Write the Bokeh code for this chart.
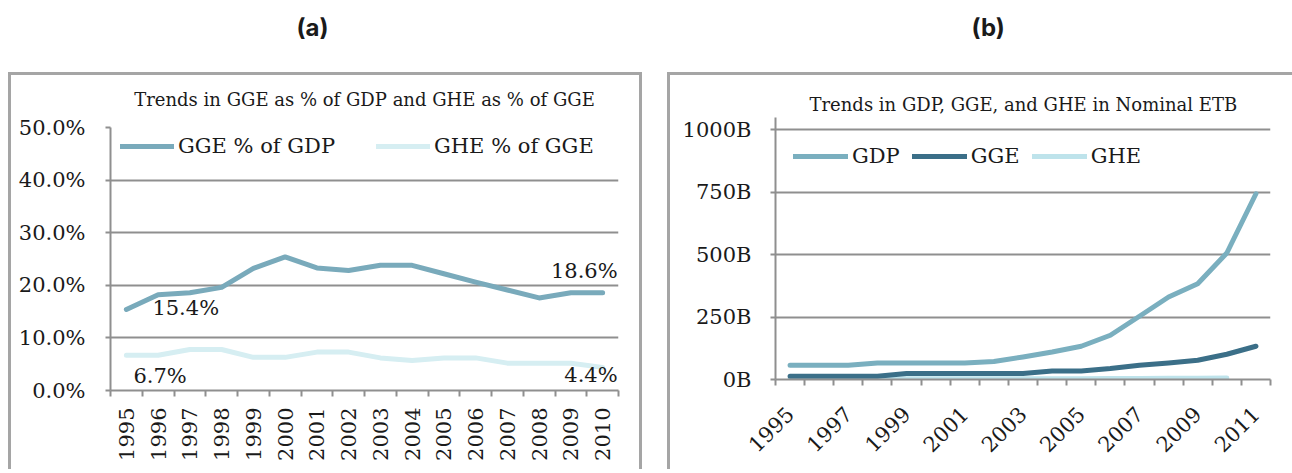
import math
from bokeh.plotting import figure
from bokeh.models import (FixedTicker, PrintfTickFormatter, Legend, LegendItem,
                          Label, Range1d, Title)
from bokeh.layouts import row
from bokeh.embed import file_html
from bokeh.resources import INLINE

# ---------------- data ----------------
years_a = [1995, 1996, 1997, 1998, 1999, 2000, 2001, 2002,
           2003, 2004, 2005, 2006, 2007, 2008, 2009, 2010]
gge_pct_gdp = [15.4, 18.2, 18.6, 19.6, 23.2, 25.4, 23.3, 22.8,
               23.8, 23.8, 22.2, 20.6, 19.1, 17.6, 18.6, 18.6]
ghe_pct_gge = [6.7, 6.7, 7.8, 7.8, 6.3, 6.3, 7.3, 7.3,
               6.2, 5.7, 6.2, 6.2, 5.2, 5.2, 5.2, 4.4]
pct_ticks = [0, 10, 20, 30, 40, 50]

years_b = [1995, 1996, 1997, 1998, 1999, 2000, 2001, 2002, 2003,
           2004, 2005, 2006, 2007, 2008, 2009, 2010, 2011]
gdp_b = [57, 57, 57, 66, 66, 66, 66, 72, 90, 110, 133, 177, 253, 330, 383, 506, 743]
gge_b = [13, 13, 13, 13, 24, 24, 24, 24, 24, 34, 34, 44, 57, 66, 77, 101, 133]
years_ghe_b = [1995, 1996, 1997, 1998, 1999, 2000, 2001, 2002,
               2003, 2004, 2005, 2006, 2007, 2008, 2009, 2010]
ghe_b = [2, 2, 2, 2, 3, 3, 3, 3, 3, 3, 3, 4, 4, 5, 5, 6]
etb_ticks = [0, 250, 500, 750, 1000]
label_years_b = [1995, 1997, 1999, 2001, 2003, 2005, 2007, 2009, 2011]

title_a = "Trends in GGE as % of GDP and GHE as % of GGE"
title_b = "Trends in GDP, GGE, and GHE in Nominal ETB"
header_a = "(a)"
header_b = "(b)"

# ---------------- styles ----------------
SERIF = "DejaVu Serif"
SANS = "Inter"
TXT = "#1a1a1a"
GRID = "#8f8f8f"
BOX = "#a5a5a5"
C_GGE_PCT = "#79aabb"
C_GHE_PCT = "#d6eef2"
C_GDP = "#7aafbf"
C_GGE = "#3b6f88"
C_GHE = "#bee3eb"
H = 469


def box_bg(lines):
    g = f"linear-gradient({BOX},{BOX})"
    return ", ".join(f"{g} {x}px {y}px / {w}px {h}px no-repeat" for x, y, w, h in lines)


def style_axes(p, yticks, yfmt, x_ticks, x_minor, angle, x_standoff, y_standoff):
    for ax in p.yaxis:
        ax.ticker = FixedTicker(ticks=yticks, minor_ticks=[])
        ax.formatter = PrintfTickFormatter(format=yfmt)
        ax.axis_line_color = GRID
        ax.axis_line_width = 2
        ax.major_tick_line_color = GRID
        ax.major_tick_line_width = 2
        ax.major_tick_out = 5
        ax.major_tick_in = 0
        ax.minor_tick_line_color = None
        ax.major_label_text_font = SERIF
        ax.major_label_text_font_size = "21px"
        ax.major_label_text_color = TXT
        ax.major_label_standoff = y_standoff
    for ax in p.xaxis:
        ax.ticker = FixedTicker(ticks=x_ticks, minor_ticks=x_minor)
        ax.formatter = PrintfTickFormatter(format="%d")
        ax.axis_line_color = GRID
        ax.axis_line_width = 2
        ax.major_tick_line_color = None
        ax.major_tick_out = 6
        ax.major_tick_in = 0
        ax.minor_tick_line_color = GRID
        ax.minor_tick_line_width = 2
        ax.minor_tick_out = 6
        ax.minor_tick_in = 0
        ax.major_label_orientation = angle
        ax.major_label_text_font = SERIF
        ax.major_label_text_font_size = "21px"
        ax.major_label_text_color = TXT
        ax.major_label_standoff = x_standoff
    p.xgrid.visible = False
    p.ygrid.ticker = FixedTicker(ticks=yticks, minor_ticks=[])
    p.ygrid.grid_line_color = GRID
    p.ygrid.grid_line_width = 2
    p.outline_line_color = None
    p.background_fill_color = "white"
    p.border_fill_alpha = 0


# ================= panel (a) =================
A_W = 650
pa = figure(width=A_W, height=H, frame_width=508, frame_height=263,
            min_border_left=110, min_border_top=127,
            min_border_right=A_W - 110 - 508, min_border_bottom=H - 127 - 263,
            x_range=Range1d(1994.5, 2010.5), y_range=Range1d(0, 50),
            frame_align=False, output_backend="svg", toolbar_location=None,
            styles={"background": box_bg([(8, 72, 3, 420), (8, 72, 634, 3),
                                          (639, 72, 3, 420)])})
style_axes(pa, pct_ticks, "%.1f%%", years_a,
           [y - 0.5 for y in years_a] + [years_a[-1] + 0.5], math.pi / 2, 11, 20)

r_ghe_pct = pa.line(years_a, ghe_pct_gge, line_width=5, color=C_GHE_PCT,
                    line_join="round", line_cap="round")
r_gge_pct = pa.line(years_a, gge_pct_gdp, line_width=5, color=C_GGE_PCT,
                    line_join="round", line_cap="round")

leg_a = Legend(items=[LegendItem(label="GGE % of GDP", renderers=[r_gge_pct]),
                      LegendItem(label="GHE % of GGE", renderers=[r_ghe_pct])],
               orientation="horizontal", location=(10, 390 - 158),
               glyph_width=54, glyph_height=22, label_height=22,
               label_standoff=4, spacing=41, padding=0, margin=0,
               label_text_font=SERIF, label_text_font_size="21px",
               label_text_color=TXT, border_line_color=None,
               background_fill_alpha=0)
pa.add_layout(leg_a, "center")

lbl_kw = dict(text_font=SERIF, text_font_size="21px", text_color=TXT,
              text_baseline="middle")
pa.add_layout(Label(x=years_a[0], y=gge_pct_gdp[0], x_offset=26, y_offset=1,
                    text=f"{gge_pct_gdp[0]:.1f}%", text_align="left", **lbl_kw))
pa.add_layout(Label(x=years_a[0], y=ghe_pct_gge[0], x_offset=7, y_offset=-21,
                    text=f"{ghe_pct_gge[0]:.1f}%", text_align="left", **lbl_kw))
pa.add_layout(Label(x=years_a[-1], y=gge_pct_gdp[-1], x_offset=15, y_offset=22,
                    text=f"{gge_pct_gdp[-1]:.1f}%", text_align="right", **lbl_kw))
pa.add_layout(Label(x=years_a[-1], y=ghe_pct_gge[-1], x_offset=15, y_offset=-8,
                    text=f"{ghe_pct_gge[-1]:.1f}%", text_align="right", **lbl_kw))

pa.add_layout(Title(text=title_a, align="center", standoff=36,
                    text_font=SERIF, text_font_size="18px",
                    text_font_style="normal", text_color=TXT), "above")
pa.add_layout(Title(text=header_a + "\n", align="left", offset=186, standoff=-5,
                    text_font=SANS, text_font_size="24px", text_line_height=1.0,
                    text_font_style="bold", text_color=TXT), "above")

# ================= panel (b) =================
B_X = A_W
B_W = 1292 - A_W
pb = figure(width=B_W, height=H, frame_width=495, frame_height=262,
            min_border_left=775 - B_X, min_border_top=117,
            min_border_right=B_W - (775 - B_X) - 495, min_border_bottom=H - 117 - 262,
            x_range=Range1d(1994.5, 2011.5), y_range=Range1d(0, 1048),
            frame_align=False, output_backend="svg", toolbar_location=None,
            styles={"background": box_bg([(667 - B_X, 72, 3, 420),
                                          (667 - B_X, 72, 700, 3)])})
style_axes(pb, etb_ticks, "%dB", label_years_b,
           [y - 0.5 for y in years_b] + [years_b[-1] + 0.5], math.pi / 4, 25, 19)

r_ghe = pb.line(years_ghe_b, ghe_b, line_width=5, color=C_GHE,
                line_join="round", line_cap="round")
r_gge = pb.line(years_b, gge_b, line_width=5, color=C_GGE,
                line_join="round", line_cap="round")
r_gdp = pb.line(years_b, gdp_b, line_width=5, color=C_GDP,
                line_join="round", line_cap="round")

leg_b = Legend(items=[LegendItem(label="GDP", renderers=[r_gdp]),
                      LegendItem(label="GGE", renderers=[r_gge]),
                      LegendItem(label="GHE", renderers=[r_ghe])],
               orientation="horizontal", location=(18, 379 - 168),
               glyph_width=55, glyph_height=22, label_height=22,
               label_standoff=4, spacing=12, padding=0, margin=0,
               label_text_font=SERIF, label_text_font_size="21px",
               label_text_color=TXT, border_line_color=None,
               background_fill_alpha=0)
pb.add_layout(leg_b, "center")

pb.add_layout(Title(text=title_b, align="left", offset=34, standoff=6,
                    text_font=SERIF, text_font_size="18px",
                    text_font_style="normal", text_color=TXT), "above")
pb.add_layout(Title(text=header_b + "\n\n", align="left", offset=196, standoff=-23,
                    text_font=SANS, text_font_size="24px", text_line_height=1.0,
                    text_font_style="bold", text_color=TXT), "above")

layout = row(pa, pb)
open("out.html", "w").write(file_html(layout, INLINE))
